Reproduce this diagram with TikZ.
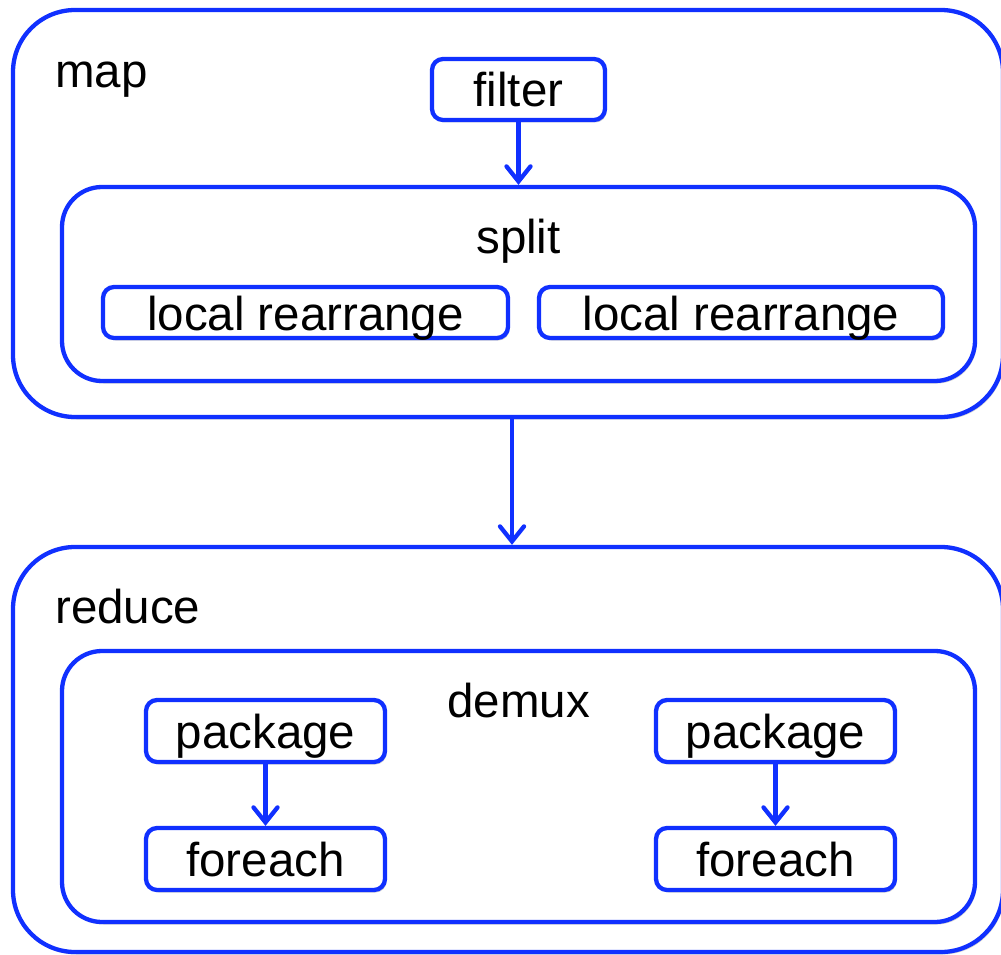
\documentclass[tikz,border=0pt]{standalone}
\usepackage{fontspec}
\setmainfont{Liberation Sans}
\usetikzlibrary{arrows.meta,shadows}
\definecolor{lineblue}{RGB}{16,48,255}
\tikzset{
  box/.style={draw=lineblue, line width=4.3pt, fill=white, inner sep=0pt,
    drop shadow={shadow xshift=1.5pt, shadow yshift=-2.5pt, opacity=0.18, fill=black}},
  bigbox/.style={box, rounded corners=62pt},
  midbox/.style={box, rounded corners=40pt},
  smallbox/.style={box, rounded corners=11pt, text height=35pt, text depth=0pt,
    font=\fontsize{47.5}{57}\selectfont},
  lbl/.style={anchor=base, inner sep=0pt, font=\fontsize{47.5}{57}\selectfont},
  flow/.style={draw=lineblue, line width=4.3pt,
    -{Straight Barb[length=15pt, width=24pt, line width=4.3pt, line cap=round]}}
}
\begin{document}
\begin{tikzpicture}[x=1pt, y=-1pt]
\useasboundingbox (0,0) rectangle (1001,955);
\fill[white] (0,0) rectangle (1001,955);
% map
\node[bigbox, minimum width=990pt, minimum height=407pt] (map) at (508,213.5) {};
\node[lbl, anchor=base west] (maplbl) at (55,88) {map};
\node[smallbox, minimum width=173pt, minimum height=61pt] (filter) at (518.5,89.5) {filter};
\node[midbox, minimum width=913pt, minimum height=194pt] (split) at (518.5,284) {};
\node[lbl] (splitlbl) at (518.5,253) {split};
\node[smallbox, minimum width=405pt, minimum height=51pt] (lr1) at (305.5,312.5) {local rearrange};
\node[smallbox, minimum width=404pt, minimum height=51pt] (lr2) at (741,312.5) {local rearrange};
% reduce
\node[bigbox, minimum width=990pt, minimum height=405pt] (reduce) at (508,749.5) {};
\node[lbl, anchor=base west] (reducelbl) at (55,623) {reduce};
\node[midbox, minimum width=913pt, minimum height=271pt] (demux) at (518.5,786.5) {};
\node[lbl] (demuxlbl) at (518.5,717) {demux};
\node[smallbox, minimum width=239pt, minimum height=62pt] (pk1) at (265.5,731) {package};
\node[smallbox, minimum width=239pt, minimum height=62pt] (fe1) at (265.5,859) {foreach};
\node[smallbox, minimum width=239pt, minimum height=62pt] (pk2) at (775.5,731) {package};
\node[smallbox, minimum width=239pt, minimum height=62pt] (fe2) at (775.5,859) {foreach};
% connectors
\draw[flow] (filter.south) -- (filter.south |- split.north);
\draw[flow] (map.south -| 512,0) -- (reduce.north -| 512,0);
\draw[flow] (pk1.south) -- (fe1.north);
\draw[flow] (pk2.south) -- (fe2.north);
\end{tikzpicture}
\end{document}
